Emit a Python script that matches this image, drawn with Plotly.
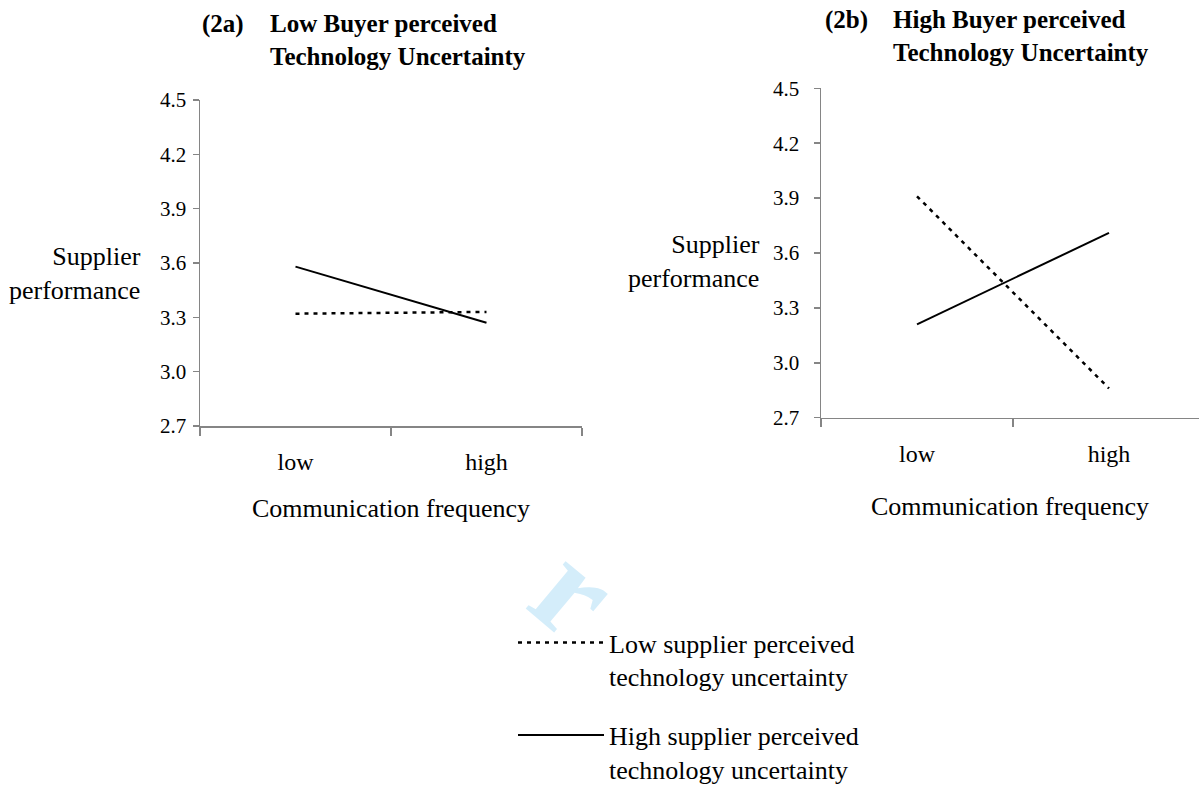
import plotly.graph_objects as go

# ---------------- data ----------------
categories = ["low", "high"]
y_ticks = [2.7, 3.0, 3.3, 3.6, 3.9, 4.2, 4.5]
y_tick_labels = ["2.7", "3.0", "3.3", "3.6", "3.9", "4.2", "4.5"]

# Panel 2a: Low buyer perceived technology uncertainty
a_low_supplier = [3.32, 3.33]
a_high_supplier = [3.58, 3.27]
# Panel 2b: High buyer perceived technology uncertainty
b_low_supplier = [3.91, 2.86]
b_high_supplier = [3.21, 3.71]

series_names = [
    "Low supplier perceived<br>technology uncertainty",
    "High supplier perceived<br>technology uncertainty",
]
panel_titles = ["Low Buyer perceived<br>Technology Uncertainty",
                "High Buyer perceived<br>Technology Uncertainty"]
panel_labels = ["(2a)", "(2b)"]
x_title = "Communication frequency"
y_title = "Supplier<br>performance"

# ---------------- style ----------------
FONT = "Liberation Serif"
AX = "#858585"
W, H = 1199, 787

def px(x):
    return x / W

def py(y):
    return 1 - y / H

fig = go.Figure()

dash_style = dict(color="black", width=2.5, dash="4px,5px")
solid_style = dict(color="black", width=2)

fig.add_trace(go.Scatter(x=categories, y=a_low_supplier, mode="lines", line=dash_style,
                         name=series_names[0], legendgroup="low", showlegend=True,
                         xaxis="x", yaxis="y", hoverinfo="skip"))
fig.add_trace(go.Scatter(x=categories, y=a_high_supplier, mode="lines", line=solid_style,
                         name=series_names[1], legendgroup="high", showlegend=True,
                         xaxis="x", yaxis="y", hoverinfo="skip"))
fig.add_trace(go.Scatter(x=categories, y=b_low_supplier, mode="lines", line=dash_style,
                         name=series_names[0], legendgroup="low", showlegend=False,
                         xaxis="x2", yaxis="y2", hoverinfo="skip"))
fig.add_trace(go.Scatter(x=categories, y=b_high_supplier, mode="lines", line=solid_style,
                         name=series_names[1], legendgroup="high", showlegend=False,
                         xaxis="x2", yaxis="y2", hoverinfo="skip"))

def xaxis_cfg(domain, rng, anchor, standoff):
    return dict(
        domain=domain, anchor=anchor, type="category", categoryorder="array",
        categoryarray=categories, range=rng, tickson="boundaries", ticks="outside",
        ticklen=8, tickwidth=1.5, tickcolor=AX, showline=True, linecolor=AX,
        linewidth=1.5, showgrid=False, zeroline=False,
        tickfont=dict(family=FONT, size=24, color="black"),
        ticklabelstandoff=14,
        title=dict(text=x_title, font=dict(family=FONT, size=26, color="black"),
                   standoff=standoff),
        fixedrange=True,
    )

def yaxis_cfg(domain, anchor, standoff):
    return dict(
        domain=domain, anchor=anchor, range=[2.7, 4.5], tickvals=y_ticks,
        ticktext=y_tick_labels, ticks="outside", ticklen=6, tickwidth=1.5,
        tickcolor=AX, showline=True, linecolor=AX, linewidth=1.5, showgrid=False,
        zeroline=False, tickfont=dict(family=FONT, size=21, color="black"),
        ticklabelstandoff=standoff, fixedrange=True,
    )

annotations = []
# y-axis titles
annotations.append(dict(text=y_title, x=px(143), y=py(273), xref="paper", yref="paper",
                        xanchor="right", yanchor="middle", align="right", showarrow=False,
                        font=dict(family=FONT, size=26, color="black")))
annotations.append(dict(text=y_title, x=px(762), y=py(261), xref="paper", yref="paper",
                        xanchor="right", yanchor="middle", align="right", showarrow=False,
                        font=dict(family=FONT, size=26, color="black")))
# panel titles
for lab, ttl, xl, xt, yl, yt in [(panel_labels[0], panel_titles[0], 200, 268, 24, 40),
                                 (panel_labels[1], panel_titles[1], 823, 891, 20, 36)]:
    annotations.append(dict(text="<b>%s</b>" % lab, x=px(xl), y=py(yl), xref="paper",
                            yref="paper", xanchor="left", yanchor="middle", showarrow=False,
                            font=dict(family=FONT, size=25, color="black")))
    annotations.append(dict(text="<b>%s</b>" % ttl.replace("<br>", "</b><br><b>"),
                            x=px(xt), y=py(yt), xref="paper", yref="paper", xanchor="left",
                            yanchor="middle", align="left", showarrow=False,
                            font=dict(family=FONT, size=25, color="black")))
# faint watermark fragment
annotations.append(dict(text="<b>r</b>", x=px(575), y=py(670), xref="paper", yref="paper",
                        showarrow=False, textangle=40,
                        font=dict(family=FONT, size=135, color="#d4edfa")))

fig.update_layout(
    width=W, height=H,
    margin=dict(l=0, r=0, t=0, b=0, autoexpand=False),
    paper_bgcolor="white", plot_bgcolor="white",
    xaxis=xaxis_cfg([px(200), px(582)], [-0.5, 1.5], "y", 24),
    yaxis=yaxis_cfg([py(426), py(100)], "x", 2),
    xaxis2=xaxis_cfg([px(821), 1.0], [-0.5, -0.5 + (W - 821) / 192.0], "y2", 31),
    yaxis2=yaxis_cfg([py(417.7), py(88.3)], "x2", 10),
    annotations=annotations,
    showlegend=True,
    legend=dict(x=px(513), y=py(619), xanchor="left", yanchor="top",
                font=dict(family=FONT, size=26, color="black"),
                traceorder="grouped", tracegroupgap=22, itemwidth=86, valign="top",
                bgcolor="rgba(0,0,0,0)", borderwidth=0),
)

fig.write_html(
    "out.html",
    config={"displayModeBar": False, "staticPlot": True},
    post_script="document.body.style.margin='0';document.body.style.overflow='hidden';",
)
